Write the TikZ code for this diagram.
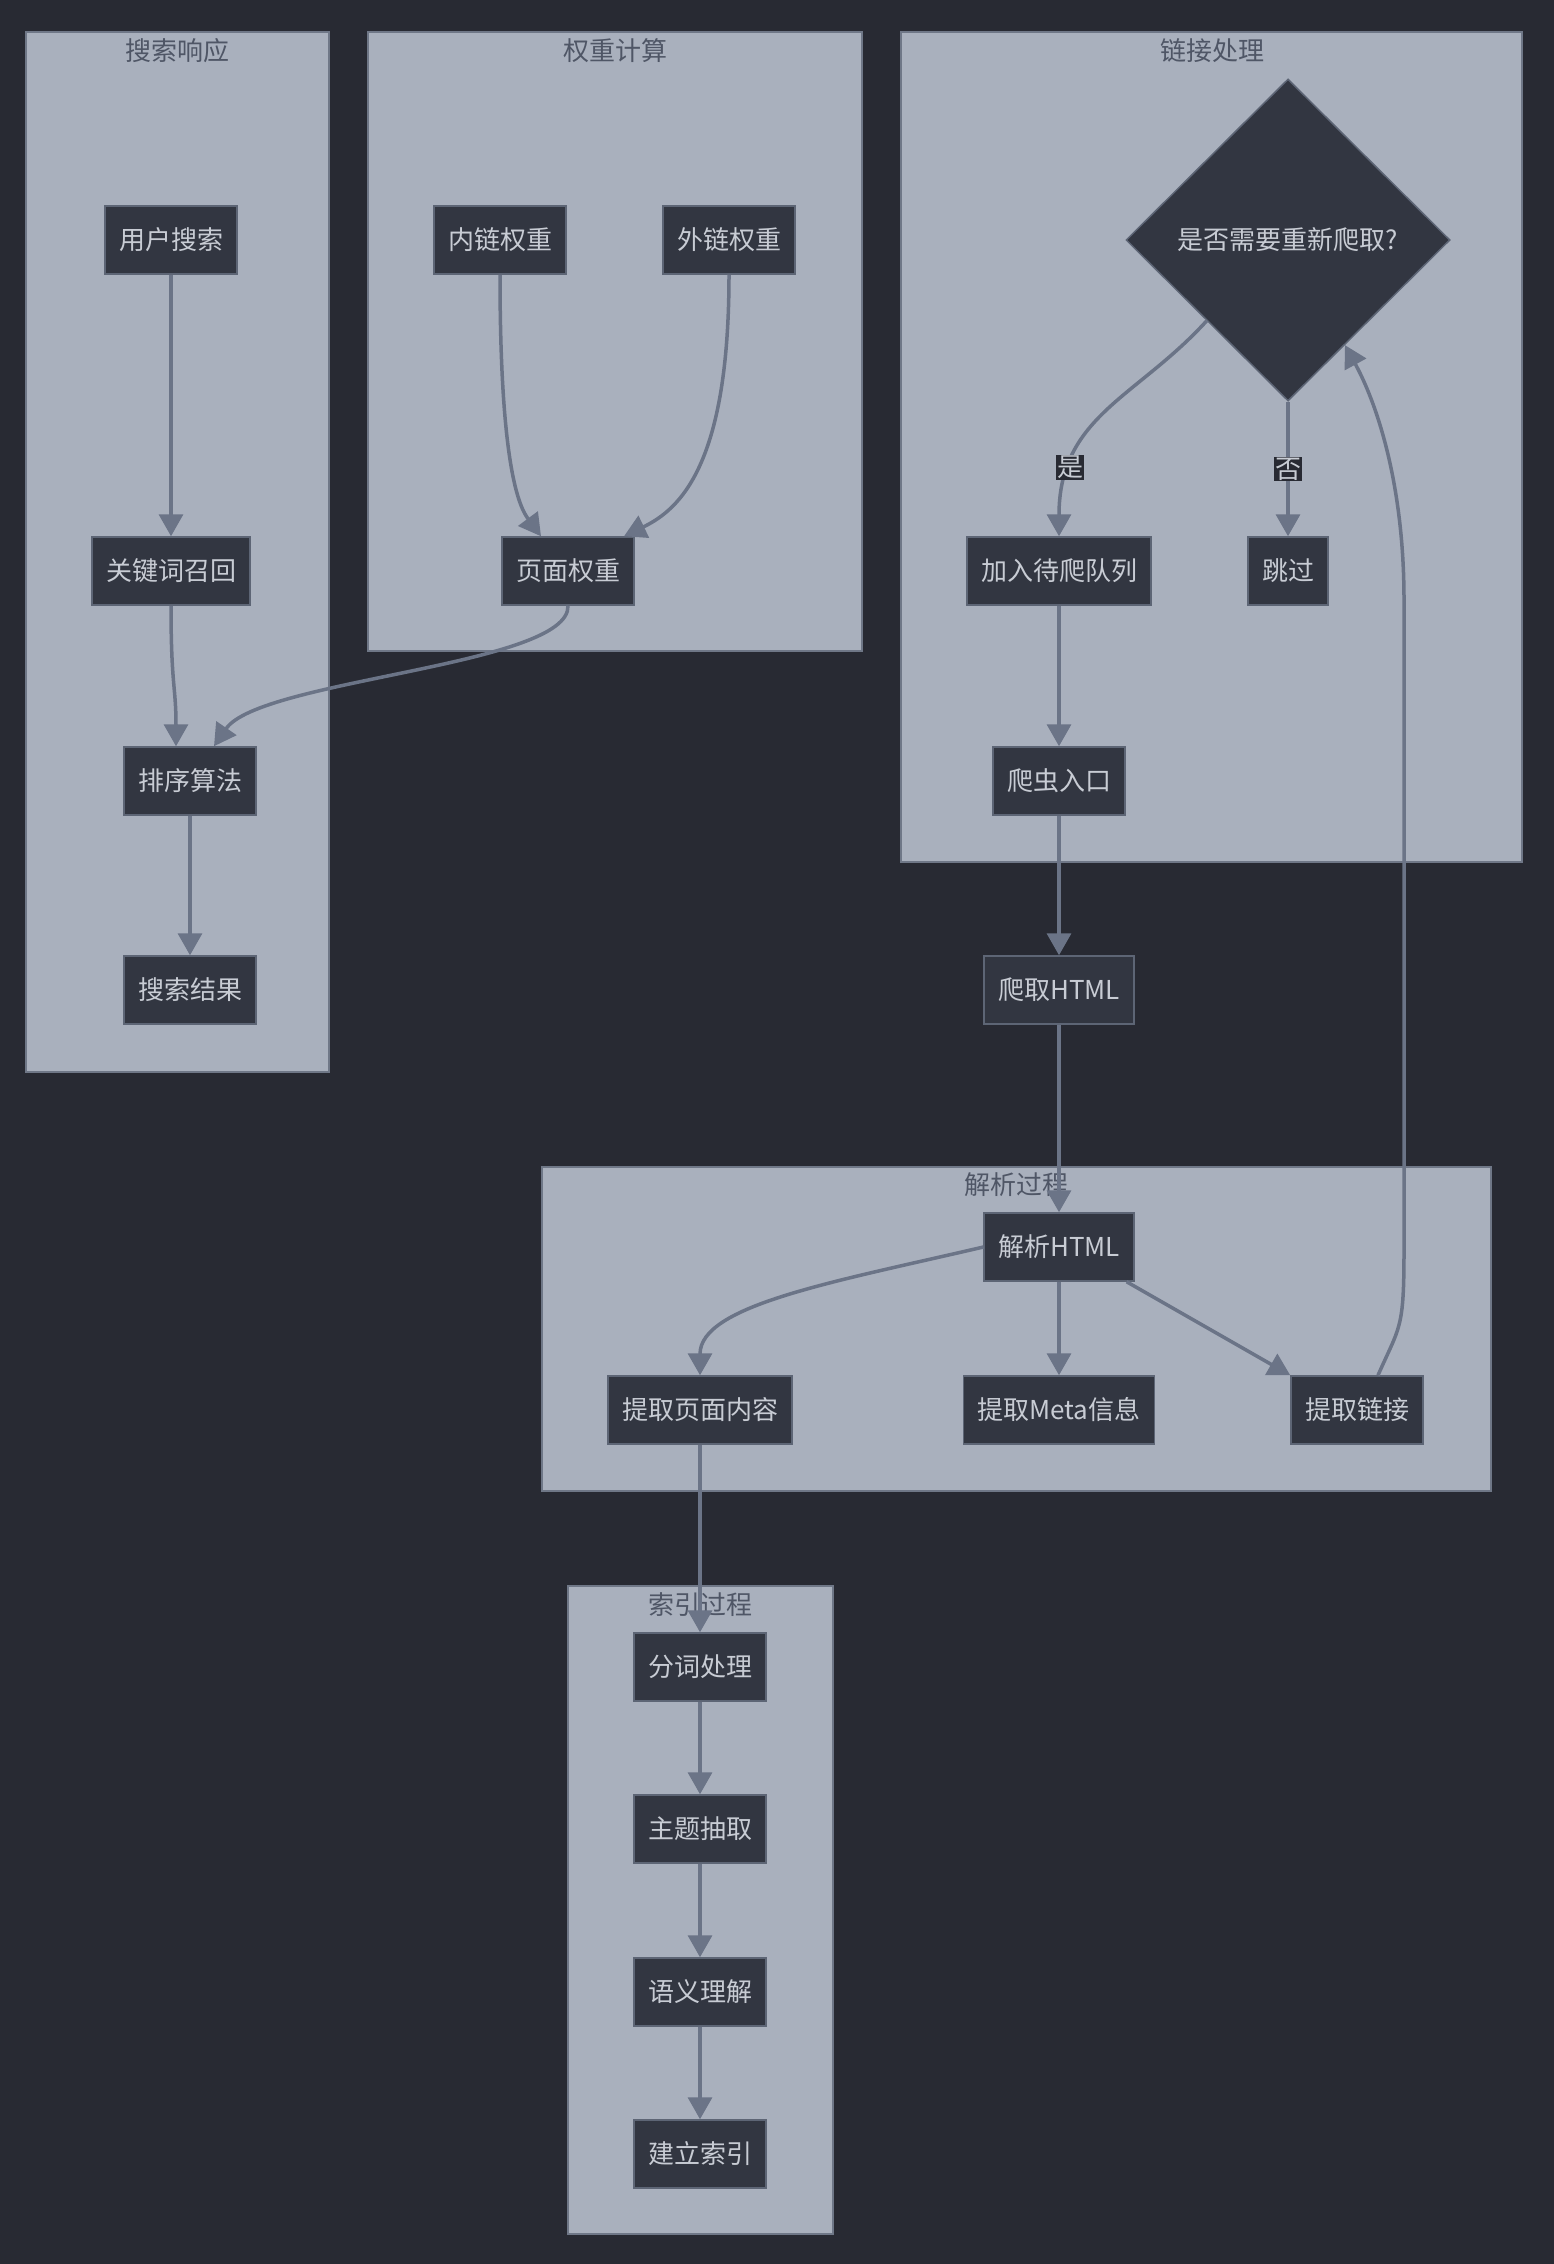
\documentclass[tikz,border=0pt]{standalone}
\usepackage{fontspec}
\setmainfont{Noto Sans CJK SC}
\usetikzlibrary{arrows.meta,shapes.geometric,calc}
\definecolor{bgc}{HTML}{282A33}
\definecolor{clfill}{HTML}{A9B0BD}
\definecolor{cldraw}{HTML}{6F7787}
\definecolor{ndfill}{HTML}{323641}
\definecolor{nddraw}{HTML}{5D6575}
\definecolor{ndtext}{HTML}{C8CCD4}
\definecolor{edgec}{HTML}{6B7487}
\definecolor{cltext}{HTML}{4F5666}
\tikzset{
  cluster/.style={fill=clfill,draw=cldraw,line width=1.5pt},
  cltitle/.style={text=cltext,font=\fontsize{26}{30}\selectfont,inner sep=0pt},
  box/.style={rectangle,fill=ndfill,draw=nddraw,line width=1.5pt,text=ndtext,
    font=\fontsize{26}{30}\selectfont,minimum height=68pt,inner xsep=14pt,inner ysep=0pt},
  dec/.style={diamond,fill=ndfill,draw=nddraw,line width=1.5pt,text=ndtext,
    font=\fontsize{26}{30}\selectfont,minimum width=324pt,minimum height=322pt,inner sep=0pt},
  conn/.style={draw=edgec,line width=3.5pt,-{Triangle[length=22pt,width=24pt]}},
  elabel/.style={fill=bgc,text=ndtext,font=\fontsize{26}{30}\selectfont,inner sep=1pt}
}
\begin{document}
\begin{tikzpicture}[x=1pt,y=-1pt]
\useasboundingbox[fill=bgc] (0,0) rectangle (1554,2264);
% clusters
\draw[cluster] (26,32) rectangle (329,1072);
\draw[cluster] (368,32) rectangle (862,651);
\draw[cluster] (901,32) rectangle (1522,862);
\draw[cluster] (542,1167) rectangle (1491,1491);
\draw[cluster] (568,1586) rectangle (833,2234);
\node[cltitle] (t1) at (177,51) {搜索响应};
\node[cltitle] (t2) at (615,51) {权重计算};
\node[cltitle] (t3) at (1212,51) {链接处理};
\node[cltitle] (t4) at (1016,1185) {解析过程};
\node[cltitle] (t5) at (700,1605) {索引过程};
% nodes
\node[box] (us) at (171,240) {用户搜索};
\node[box] (kw) at (171,571) {关键词召回};
\node[box] (sort) at (190,781) {排序算法};
\node[box] (res) at (190,990) {搜索结果};
\node[box] (inw) at (500,240) {内链权重};
\node[box] (outw) at (729,240) {外链权重};
\node[box] (pw) at (568,571) {页面权重};
\node[dec] (dia) at (1288,240) {是否需要重新爬取?};
\node[box] (queue) at (1059,571) {加入待爬队列};
\node[box] (skip) at (1288,571) {跳过};
\node[box] (entry) at (1059,781) {爬虫入口};
\node[box] (fetch) at (1059,990) {爬取HTML};
\node[box] (parse) at (1059,1247) {解析HTML};
\node[box] (content) at (700,1410) {提取页面内容};
\node[box] (meta) at (1059,1410) {提取Meta信息};
\node[box] (links) at (1357,1410) {提取链接};
\node[box] (seg) at (700,1667) {分词处理};
\node[box] (topic) at (700,1829) {主题抽取};
\node[box] (sem) at (700,1992) {语义理解};
\node[box] (idx) at (700,2154) {建立索引};
% connectors
\draw[conn] (us) -- (kw);
\draw[conn] (kw.south) .. controls ([yshift=-80pt]kw.south) and ([xshift=-14pt,yshift=60pt]sort.north) .. ([xshift=-14pt]sort.north);
\draw[conn] (pw.south) .. controls ([xshift=2pt,yshift=-60pt]pw.south) and ([xshift=70pt,yshift=67pt]sort.north) .. ([xshift=24pt]sort.north);
\draw[conn] (sort) -- (res);
\draw[conn] (inw.south) .. controls ([yshift=-200pt]inw.south) and ([xshift=-47pt,yshift=27pt]pw.north) .. ([xshift=-27pt]pw.north);
\draw[conn] (outw.south) .. controls ([yshift=-190pt]outw.south) and ([xshift=112pt,yshift=27pt]pw.north) .. ([xshift=56pt]pw.north);
\draw[conn] (dia.south west) .. controls ([xshift=-70pt,yshift=-77pt]dia.south west) and ([yshift=120pt]queue.north) .. (queue.north)
  node[elabel,pos=0.77] (yes) {是};
\draw[conn] (dia.south) -- (skip.north) node[elabel,pos=0.5] (no) {否};
\draw[conn] (queue) -- (entry);
\draw[conn] (entry) -- (fetch);
\draw[conn] (fetch.south) -- (parse.north);
\draw[conn] (parse.west) .. controls ([xshift=-150pt,yshift=-35pt]parse.west) and ([yshift=70pt]content.north) .. (content.north);
\draw[conn] (parse) -- (meta);
\draw[conn] ([xshift=-8pt]parse.south east) -- (links.north west);
\draw[conn] ([xshift=21pt]links.north) .. controls ([xshift=43pt,yshift=50pt]links.north) and (1404,1330) .. (1404,1250)
  -- (1404,600) .. controls (1404,480) and (1375,400) .. ($(dia.south east)!0.3!(dia.south)$);
\draw[conn] (content) -- (seg);
\draw[conn] (seg) -- (topic);
\draw[conn] (topic) -- (sem);
\draw[conn] (sem) -- (idx);
\end{tikzpicture}
\end{document}
